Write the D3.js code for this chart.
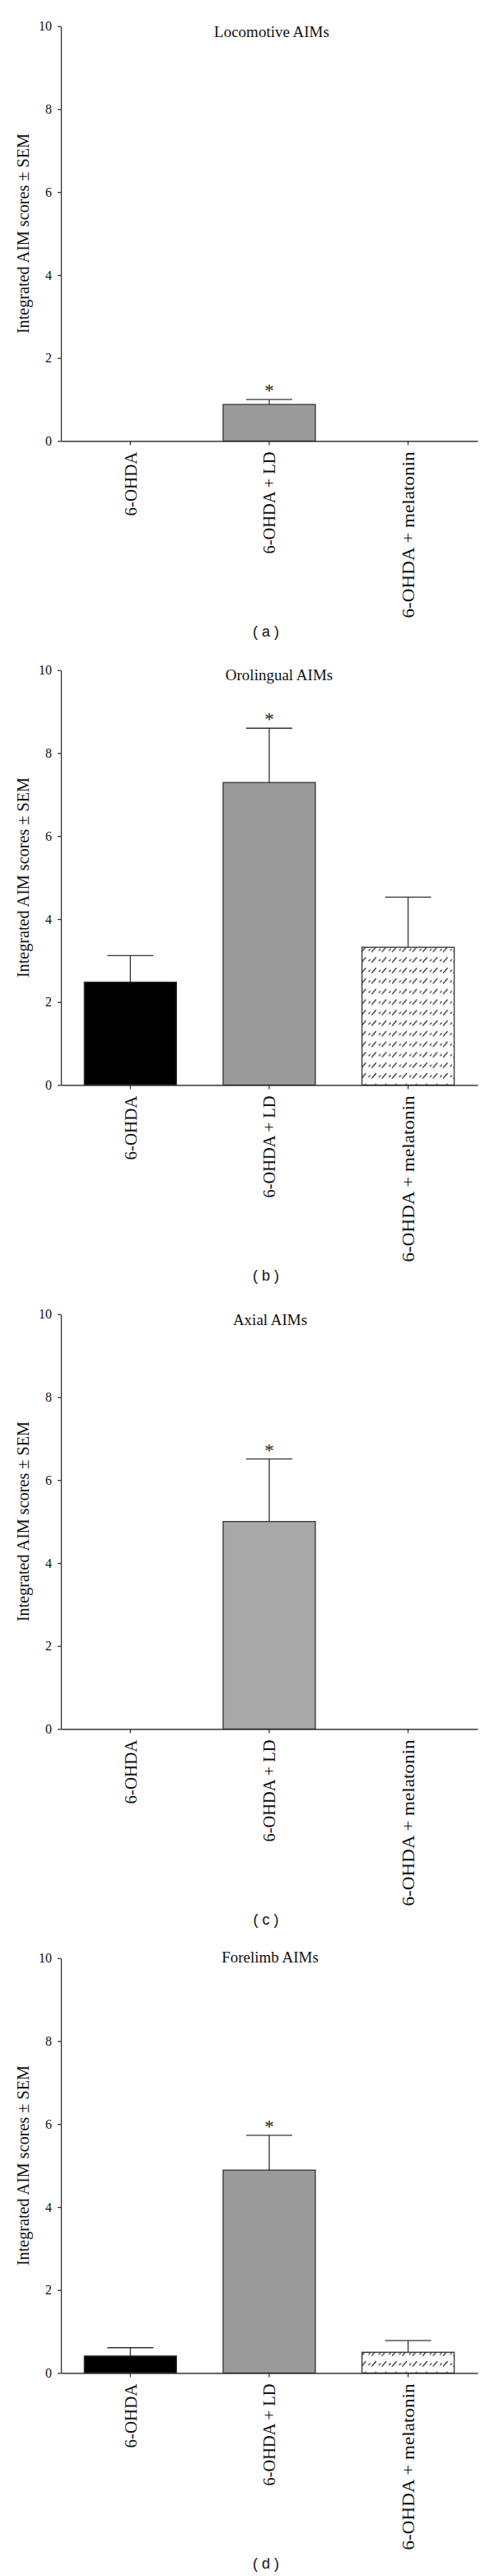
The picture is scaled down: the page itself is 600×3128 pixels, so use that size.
<!DOCTYPE html>
<html>
<head>
<meta charset="utf-8">
<script src="https://cdn.jsdelivr.net/npm/d3@7"></script>
<style>
  body { margin: 0; background: #fff; }
  svg { display: block; }
  .tick text { font-family: "Liberation Serif", "DejaVu Serif", serif; fill: #111; }
</style>
</head>
<body>
<svg id="chart"></svg>
<script>
// data
var categories = ["6-OHDA", "6-OHDA + LD", "6-OHDA + melatonin"];
var panelTitles = ["Locomotive AIMs", "Orolingual AIMs", "Axial AIMs", "Forelimb AIMs"];
var panelLetters = ["a", "b", "c", "d"];

var locomotiveMean = [0, 0.88, 0];
var locomotiveSem  = [0, 0.12, 0];
var orolingualMean = [2.48, 7.29, 3.32];
var orolingualSem  = [0.64, 1.31, 1.21];
var axialMean      = [0, 5.0, 0];
var axialSem       = [0, 1.51, 0];
var forelimbMean   = [0.41, 4.89, 0.50];
var forelimbSem    = [0.20, 0.84, 0.28];

var significant = [false, true, false];   // asterisk over LD group
var yTicks = [0, 2, 4, 6, 8, 10];

var means = [locomotiveMean, orolingualMean, axialMean, forelimbMean];
var sems  = [locomotiveSem, orolingualSem, axialSem, forelimbSem];

// layout
var screen = {width: 600, height: 3128};
var panelH = 782;
var margins = {top: 31.7, left: 74, right: 20};
var plotH = 503.8;
var titleX = [330, 339, 328, 328];
var titleDy = [12.8, 12.2, 12.8, 5.5];
var labelLen = [78, 124, 202];
var ldGray = ["#9b9b9b", "#9b9b9b", "#a8a8a8", "#9b9b9b"];

var svg = d3.select("#chart")
    .attr("width", screen.width)
    .attr("height", screen.height);

svg.append("rect")
    .attr("width", screen.width)
    .attr("height", screen.height)
    .attr("fill", "#fff");

// hatch used for the melatonin bars
var pat = svg.append("defs").append("pattern")
    .attr("id", "hatch")
    .attr("patternUnits", "userSpaceOnUse")
    .attr("width", 12.4)
    .attr("height", 12.8);
pat.append("rect").attr("width", 12.4).attr("height", 12.8).attr("fill", "#fff");
pat.append("line").attr("x1", 1.2).attr("y1", 8).attr("x2", 3.4).attr("y2", 5.6)
    .attr("stroke", "#222").attr("stroke-width", 1.2);
pat.append("line").attr("x1", 5).attr("y1", 9.5).attr("x2", 10.4).attr("y2", 3.2)
    .attr("stroke", "#222").attr("stroke-width", 1.2);

var xScale = d3.scaleBand()
    .domain(categories)
    .range([margins.left, screen.width - margins.right])
    .padding(0);

var yScale = d3.scaleLinear()
    .domain([0, 10])
    .range([plotH, 0]);

var barW = xScale.bandwidth() * 0.664;

var drawPanel = function(p)
{
    var g = svg.append("g")
        .attr("transform", "translate(0," + (p * panelH + margins.top) + ")");

    var rows = categories.map(function(c, i)
    {
        return {cat: c, i: i, mean: means[p][i], sem: sems[p][i], sig: significant[i]};
    });

    var fills = ["#000", ldGray[p], "url(#hatch)"];

    // bars
    g.selectAll("rect.bar")
        .data(rows.filter(function(d) { return d.mean > 0; }))
        .enter()
        .append("rect")
        .classed("bar", true)
        .attr("x", function(d) { return xScale(d.cat) + (xScale.bandwidth() - barW) / 2; })
        .attr("y", function(d) { return yScale(d.mean); })
        .attr("width", barW)
        .attr("height", function(d) { return yScale(0) - yScale(d.mean); })
        .attr("fill", function(d) { return fills[d.i]; })
        .attr("stroke", "#333")
        .attr("stroke-width", 1.3);

    // upper error bars
    var err = g.selectAll("g.err")
        .data(rows.filter(function(d) { return d.sem > 0; }))
        .enter()
        .append("g")
        .classed("err", true);

    err.append("line")
        .attr("x1", function(d) { return xScale(d.cat) + xScale.bandwidth() / 2; })
        .attr("x2", function(d) { return xScale(d.cat) + xScale.bandwidth() / 2; })
        .attr("y1", function(d) { return yScale(d.mean); })
        .attr("y2", function(d) { return yScale(d.mean + d.sem); })
        .attr("stroke", "#333").attr("stroke-width", 1.3);

    err.append("line")
        .attr("x1", function(d) { return xScale(d.cat) + xScale.bandwidth() / 2 - barW / 4; })
        .attr("x2", function(d) { return xScale(d.cat) + xScale.bandwidth() / 2 + barW / 4; })
        .attr("y1", function(d) { return yScale(d.mean + d.sem); })
        .attr("y2", function(d) { return yScale(d.mean + d.sem); })
        .attr("stroke", "#333").attr("stroke-width", 1.3);

    err.filter(function(d) { return d.sig; })
        .append("text")
        .text("*")
        .attr("x", function(d) { return xScale(d.cat) + xScale.bandwidth() / 2; })
        .attr("y", function(d) { return yScale(d.mean + d.sem) - 3; })
        .attr("text-anchor", "middle")
        .style("font-family", "'Liberation Serif', serif")
        .style("font-size", "23px")
        .attr("fill", "#222");

    // axes
    var yAxis = d3.axisLeft(yScale)
        .tickValues(yTicks)
        .tickSize(4)
        .tickSizeOuter(0)
        .tickPadding(7);

    var ya = g.append("g")
        .attr("transform", "translate(" + margins.left + ",0)")
        .call(yAxis);
    ya.selectAll("text").style("font-size", "16px");

    var xAxis = d3.axisBottom(xScale)
        .tickSize(5)
        .tickSizeOuter(0);

    var xa = g.append("g")
        .attr("transform", "translate(0," + plotH + ")")
        .call(xAxis);
    xa.selectAll("text")
        .attr("transform", "rotate(-90)")
        .attr("x", -13)
        .attr("y", 0)
        .attr("dy", "0.35em")
        .attr("text-anchor", "end")
        .attr("textLength", function(d, i) { return labelLen[i]; })
        .attr("lengthAdjust", "spacingAndGlyphs")
        .style("font-size", "21px");

    g.selectAll(".domain, .tick line")
        .attr("stroke", "#333")
        .attr("stroke-width", 1.3);

    // labels
    g.append("text")
        .text(panelTitles[p])
        .attr("x", titleX[p])
        .attr("y", titleDy[p])
        .attr("text-anchor", "middle")
        .style("font-family", "'Liberation Serif', serif")
        .style("font-size", "19px")
        .attr("fill", "#111");

    g.append("g")
        .attr("transform", "translate(35," + (plotH / 2) + ")")
        .append("text")
        .text("Integrated AIM scores \u00b1 SEM")
        .attr("transform", "rotate(-90)")
        .attr("text-anchor", "middle")
        .attr("textLength", 243)
        .attr("lengthAdjust", "spacingAndGlyphs")
        .style("font-family", "'Liberation Serif', serif")
        .style("font-size", "20px")
        .attr("fill", "#111");

    g.append("text")
        .text("( " + panelLetters[p] + " )")
        .attr("x", 323)
        .attr("y", plotH + 238)
        .attr("text-anchor", "middle")
        .style("font-family", "'Liberation Sans', Arial, sans-serif")
        .style("font-size", "18px")
        .attr("fill", "#111");
}

for (var p = 0; p < 4; p++)
{
    drawPanel(p);
}
</script>
</body>
</html>
